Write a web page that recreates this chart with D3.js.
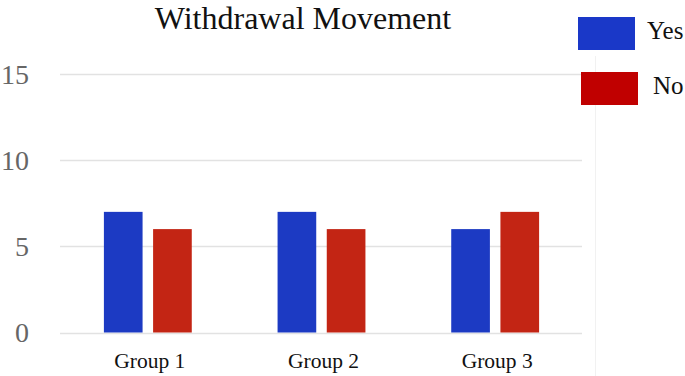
<!DOCTYPE html>
<html><head><meta charset="utf-8">
<script src="https://cdn.jsdelivr.net/npm/d3@7"></script>
<style>body{margin:0;background:#fff}svg{display:block}text{font-family:"Liberation Serif","Times New Roman",serif}</style>
</head><body><svg id="c" width="685" height="376"></svg>
<script>
const categories = ["Group 1", "Group 2", "Group 3"];
const seriesNames = ["Yes", "No"];
const yesValues = [7, 7, 6];
const noValues = [6, 6, 7];
const yTicks = [0, 5, 10, 15];
const title = "Withdrawal Movement";

const barColors = {Yes: "#1c3ac3", No: "#c32514"};
const legendColors = {Yes: "#1a38c8", No: "#c00000"};

const svg = d3.select("#c");
const y = d3.scaleLinear().domain([0, 15]).range([332.5, 74]);
const x0 = d3.scaleBand().domain(categories).range([61, 582]).padding(0);
const x1 = d3.scaleBand().domain(seriesNames).range([0, x0.bandwidth()]).paddingInner(0.214).paddingOuter(0.872);

// faint right border line
svg.append("line").attr("x1", 595.5).attr("x2", 595.5).attr("y1", 56).attr("y2", 376)
  .attr("stroke", "#f1f1f1").attr("stroke-width", 1);

// gridlines
svg.append("g").selectAll("line").data(yTicks).join("line")
  .attr("x1", 60).attr("x2", 582)
  .attr("y1", d => Math.round(y(d)) + 0.5).attr("y2", d => Math.round(y(d)) + 0.5)
  .attr("stroke", "#e2e2e2").attr("stroke-width", 1.5);

// tick labels
svg.append("g").selectAll("text").data(yTicks).join("text")
  .attr("x", 29).attr("y", d => y(d)).attr("dy", "0.35em")
  .attr("text-anchor", "end").attr("font-size", 28).attr("fill", "#666")
  .text(d => d);

// bars
const rows = categories.map((c, i) => ({cat: c, Yes: yesValues[i], No: noValues[i]}));
const g = svg.append("g").selectAll("g").data(rows).join("g")
  .attr("transform", d => `translate(${x0(d.cat)},0)`);
g.selectAll("rect").data(d => seriesNames.map(s => ({s, v: d[s]}))).join("rect")
  .attr("x", d => x1(d.s)).attr("width", x1.bandwidth())
  .attr("y", d => y(d.v)).attr("height", d => y(0) - y(d.v))
  .attr("fill", d => barColors[d.s]);

// category labels
svg.append("g").selectAll("text").data(categories).join("text")
  .attr("x", d => x0(d) + x0.bandwidth() / 2 + 2).attr("y", 368)
  .attr("text-anchor", "middle").attr("font-size", 21.5).attr("fill", "#111")
  .text(d => d);

// title
svg.append("text").attr("x", 303).attr("y", 28.5).attr("text-anchor", "middle")
  .attr("font-size", 32).attr("fill", "#111").text(title);

// legend
const leg = svg.append("g").selectAll("g").data(seriesNames).join("g")
  .attr("transform", (d, i) => `translate(${578 + i * 3},${17 + i * 55})`);
leg.append("rect").attr("width", 57).attr("height", 33).attr("fill", d => legendColors[d]);
leg.append("text").attr("x", (d, i) => 69 + i * 3).attr("y", 21.5)
  .attr("font-size", 25).attr("fill", "#111").text(d => d);
</script></body></html>
